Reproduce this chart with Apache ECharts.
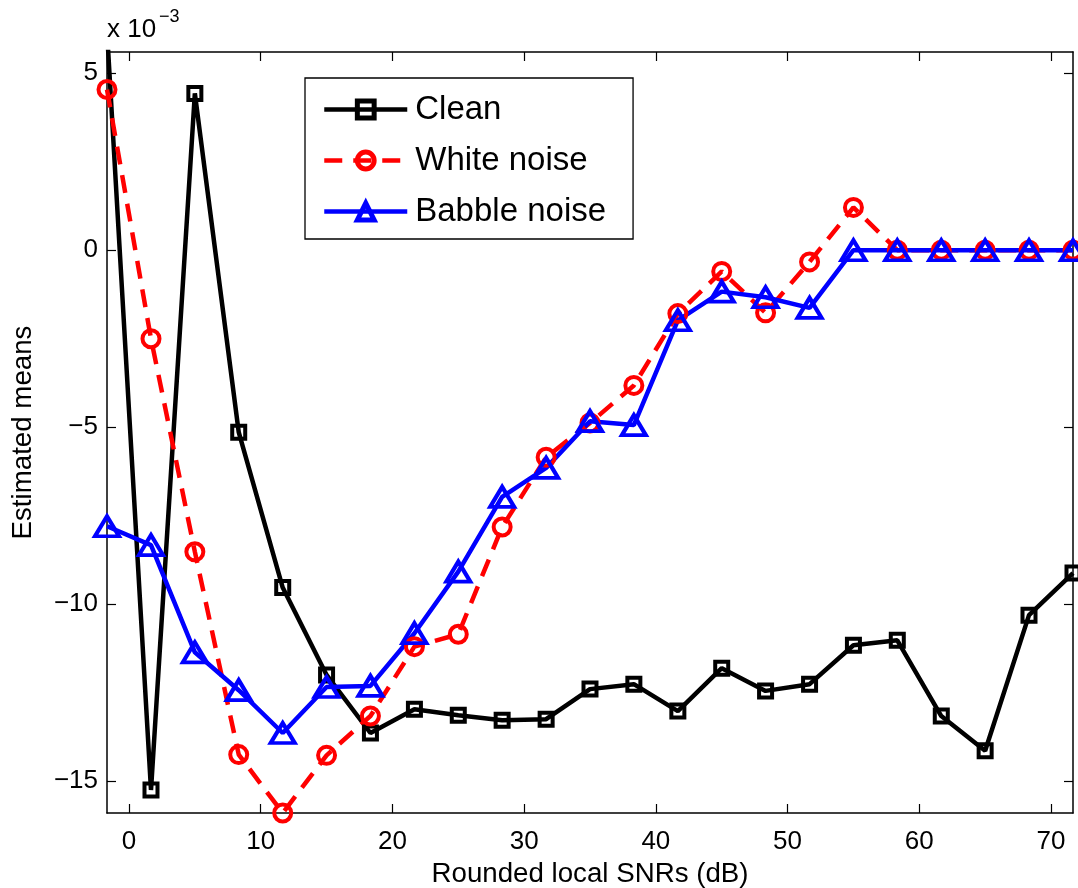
<!DOCTYPE html>
<html>
<head>
<meta charset="utf-8">
<script src="https://cdn.jsdelivr.net/npm/echarts@6/dist/echarts.min.js"></script>
<style>
  html, body { margin: 0; padding: 0; background: #fff; }
  #chart { width: 1078px; height: 888px; }
</style>
</head>
<body>
<div id="chart"></div>
<script>
// rounded local SNR (dB)
var snr = [-1.67, 1.67, 5, 8.33, 11.67, 15, 18.33, 21.67, 25, 28.33, 31.67, 35, 38.33,
  41.67, 45, 48.33, 51.67, 55, 58.33, 61.67, 65, 68.33, 71.67]
// estimated means (x 10^-3)
var clean = [6.2, -15.25, 4.43, -5.14, -9.53, -12.0, -13.64, -12.97, -13.14, -13.28, -13.25,
  -12.4, -12.26, -13.02, -11.81, -12.45, -12.26, -11.16, -11.02, -13.16, -14.14, -10.31, -9.12]
var whiteNoise = [4.54, -2.5, -8.52, -14.25, -15.9, -14.27, -13.16, -11.2, -10.85, -7.82, -5.85,
  -4.88, -3.82, -1.79, -0.6, -1.77, -0.33, 1.21, 0, 0, 0, 0, 0]
var babbleNoise = [-7.8, -8.33, -11.36, -12.43, -13.64, -12.34, -12.31, -10.82, -9.08, -6.97, -6.15,
  -4.83, -4.94, -1.98, -1.17, -1.33, -1.63, 0, 0, 0, 0, 0, 0]
var xTicks = [0, 10, 20, 30, 40, 50, 60, 70]
var yTicks = [-15, -10, -5, 0, 5]

var FONT = '"Liberation Sans", Arial, Helvetica, sans-serif'

function pairs(ys) {
  return ys.map(function (y, i) { return [snr[i], y] })
}
function minus(v) {
  return String(v).replace('-', '\u2212')
}

var chart = echarts.init(document.getElementById('chart'), null, { renderer: 'canvas' })

var tickStyle = { show: true, inside: true, length: 9, lineStyle: { color: '#000', width: 1.2 } }
var lineAxis = { show: true, onZero: false, lineStyle: { color: '#000', width: 1.5 } }

var option = {
  animation: false,
  backgroundColor: '#fff',
  textStyle: { fontFamily: FONT },
  grid: { left: 107, right: 5, top: 52, bottom: 75, containLabel: false, outerBoundsMode: 'none' },
  legend: {
    orient: 'vertical',
    left: 305,
    top: 78,
    padding: [13, 27, 9, 17],
    borderColor: '#000',
    borderWidth: 1.3,
    backgroundColor: '#fff',
    itemWidth: 83,
    itemHeight: 21,
    itemGap: 14,
    lineStyle: { width: 4.5 },
    itemStyle: { borderWidth: 5 },
    textStyle: { fontSize: 33, color: '#000', fontFamily: FONT, lineHeight: 37, padding: [0, 0, 0, 3] },
    data: ['Clean', 'White noise', 'Babble noise']
  },
  xAxis: [
    {
      type: 'value',
      min: -1.67,
      max: 71.67,
      name: 'Rounded local SNRs (dB)',
      nameLocation: 'middle',
      nameGap: 45,
      nameTextStyle: { fontSize: 27.7, color: '#000', fontFamily: FONT },
      axisLine: lineAxis,
      axisTick: Object.assign({ customValues: xTicks }, tickStyle),
      axisLabel: { customValues: xTicks, fontSize: 26, color: '#000', margin: 16, fontFamily: FONT },
      splitLine: { show: false }
    },
    {
      type: 'value',
      position: 'top',
      min: -1.67,
      max: 71.67,
      axisLine: lineAxis,
      axisTick: Object.assign({ customValues: xTicks }, tickStyle),
      axisLabel: { show: false },
      splitLine: { show: false }
    }
  ],
  yAxis: [
    {
      type: 'value',
      min: -15.9,
      max: 5.6,
      name: 'Estimated means',
      nameLocation: 'middle',
      nameGap: 70,
      nameRotate: 90,
      nameTextStyle: { fontSize: 27.7, color: '#000', fontFamily: FONT },
      axisLine: lineAxis,
      axisTick: Object.assign({ customValues: yTicks }, tickStyle),
      axisLabel: {
        customValues: yTicks, fontSize: 26, color: '#000', margin: 9, fontFamily: FONT,
        formatter: function (v) { return minus(v) }
      },
      splitLine: { show: false }
    },
    {
      type: 'value',
      position: 'right',
      min: -15.9,
      max: 5.6,
      axisLine: lineAxis,
      axisTick: Object.assign({ customValues: yTicks }, tickStyle),
      axisLabel: { show: false },
      splitLine: { show: false }
    }
  ],
  graphic: [
    {
      type: 'text', left: 107, top: 17,
      style: { text: 'x 10', fontSize: 26, fill: '#000', fontFamily: FONT }
    },
    {
      type: 'text', left: 159, top: 8,
      style: { text: '\u22123', fontSize: 18, fill: '#000', fontFamily: FONT }
    }
  ],
  series: [
    {
      name: 'Clean',
      type: 'line',
      data: pairs(clean),
      symbol: 'rect',
      symbolSize: 13,
      showAllSymbol: true,
      lineStyle: { color: '#000', width: 4.5 },
      itemStyle: { color: 'rgba(0,0,0,0)', borderColor: '#000', borderWidth: 4 },
      emphasis: { disabled: true }
    },
    {
      name: 'White noise',
      type: 'line',
      data: pairs(whiteNoise),
      symbol: 'circle',
      symbolSize: 17,
      showAllSymbol: true,
      lineStyle: { color: '#ff0000', width: 4.5, type: [18, 11] },
      itemStyle: { color: 'rgba(0,0,0,0)', borderColor: '#ff0000', borderWidth: 4 },
      emphasis: { disabled: true }
    },
    {
      name: 'Babble noise',
      type: 'line',
      data: pairs(babbleNoise),
      symbol: 'triangle',
      symbolSize: [24, 20],
      showAllSymbol: true,
      lineStyle: { color: '#0000ff', width: 4.5 },
      itemStyle: { color: 'rgba(0,0,0,0)', borderColor: '#0000ff', borderWidth: 4 },
      emphasis: { disabled: true }
    }
  ]
}

chart.setOption(option)
window.addEventListener('resize', function () {
  chart.resize()
})
</script>
</body>
</html>
